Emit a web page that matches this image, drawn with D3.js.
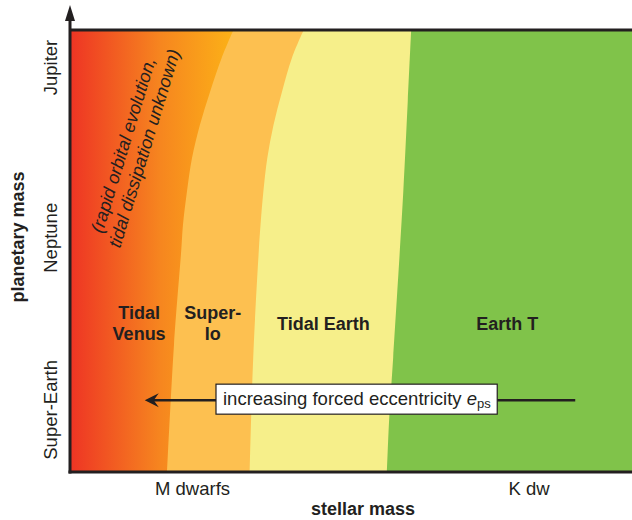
<!DOCTYPE html>
<html>
<head>
<meta charset="utf-8">
<script src="https://cdn.jsdelivr.net/npm/d3@7"></script>
<style>
  body { margin: 0; background: #fff; }
  svg text { font-family: "Liberation Sans", Arial, Helvetica, sans-serif; fill: #231f20; }
</style>
</head>
<body>
<svg id="chart" width="632" height="520"></svg>
<script>
// stellar mass (relative, 0..1) and planetary mass (relative, 0..1)
const bandNames = ["Tidal Venus", "Super-Io", "Tidal Earth", "Earth T"];
const bandColors = ["url(#redGrad)", "#fdc050", "#f6ef8a", "#80c34a"];

// boundary curves between the bands
const venusIoEdge = [
    { m: 0.290, p: 1.000 }, { m: 0.270, p: 0.939 }, { m: 0.249, p: 0.861 },
    { m: 0.231, p: 0.786 }, { m: 0.217, p: 0.711 }, { m: 0.208, p: 0.634 },
    { m: 0.201, p: 0.559 }, { m: 0.198, p: 0.502 }, { m: 0.185, p: 0.286 },
    { m: 0.173, p: 0.000 }
];
const ioEarthEdge = [
    { m: 0.415, p: 1.000 }, { m: 0.395, p: 0.939 }, { m: 0.377, p: 0.861 },
    { m: 0.362, p: 0.786 }, { m: 0.351, p: 0.711 }, { m: 0.344, p: 0.634 },
    { m: 0.339, p: 0.559 }, { m: 0.336, p: 0.502 }, { m: 0.326, p: 0.257 },
    { m: 0.320, p: 0.000 }
];
const earthTwinEdge = [
    { m: 0.607, p: 1.000 }, { m: 0.601, p: 0.841 }, { m: 0.593, p: 0.634 },
    { m: 0.575, p: 0.257 }, { m: 0.568, p: 0.120 }, { m: 0.564, p: 0.000 }
];

const yTickLabels = ["Super-Earth", "Neptune", "Jupiter"];
const yTickValues = [0.139, 0.530, 0.917];
const xTickLabels = ["M dwarfs", "K dw"];
const xTickValues = [0.218, 0.817];

const noteLines = ["(rapid orbital evolution,", "tidal dissipation unknown)"];
const arrowFrom = { m: 0.899, p: 0.161 };
const arrowTo = { m: 0.133, p: 0.161 };

const svg = d3.select("#chart");
const margin = { top: 31, right: 0, bottom: 49, left: 70 };
const width = 632 - margin.left - margin.right;
const height = 520 - margin.top - margin.bottom;

const x = d3.scaleLinear().domain([0, 1]).range([margin.left, margin.left + width]);
const y = d3.scaleLinear().domain([0, 1]).range([margin.top + height, margin.top]);

const defs = svg.append("defs");
const grad = defs.append("linearGradient")
    .attr("id", "redGrad")
    .attr("gradientUnits", "userSpaceOnUse")
    .attr("x1", x(0)).attr("x2", x(0.293))
    .attr("y1", 0).attr("y2", 0);
grad.append("stop").attr("offset", "0").attr("stop-color", "#ee3424");
grad.append("stop").attr("offset", "0.55").attr("stop-color", "#f6861f");
grad.append("stop").attr("offset", "1").attr("stop-color", "#fcb217");

// bands painted right to left, each one from the left edge to its right boundary
const fullEdge = [{ m: 1, p: 1 }, { m: 1, p: 0 }];
const edges = [venusIoEdge, ioEarthEdge, earthTwinEdge, fullEdge];

const area = d3.area()
    .curve(d3.curveCatmullRom.alpha(0.5))
    .y(d => y(d.p))
    .x0(x(0))
    .x1(d => x(d.m));

for (let i = edges.length - 1; i >= 0; i--) {
    svg.append("path")
        .datum(edges[i].slice().reverse())
        .attr("fill", bandColors[i])
        .attr("d", area);
}

// band labels
const label = (txt, m, p, dy) => {
    svg.append("text")
        .attr("x", x(m)).attr("y", y(p)).attr("dy", dy || 0)
        .attr("text-anchor", "middle")
        .attr("font-size", "18px")
        .attr("font-weight", "bold")
        .text(txt);
};
label("Tidal", 0.123, 0.3455);
label("Venus", 0.123, 0.3455, 21);
label("Super-", 0.254, 0.3455);
label("Io", 0.254, 0.3455, 21);
label(bandNames[2], 0.451, 0.3205);
label(bandNames[3], 0.778, 0.3205);

// rotated note
const note = svg.append("text")
    .attr("transform", "translate(133,148) rotate(-73)")
    .attr("text-anchor", "middle")
    .attr("font-size", "18px")
    .attr("font-style", "italic");
noteLines.forEach((t, i) => {
    note.append("tspan").attr("x", i * 3).attr("y", -4 + i * 21).text(t);
});

// arrow + box
const ay = y(arrowFrom.p);
const tipX = x(arrowTo.m);
svg.append("line")
    .attr("x1", x(arrowFrom.m)).attr("y1", ay)
    .attr("x2", tipX + 8).attr("y2", ay)
    .attr("stroke", "#231f20")
    .attr("stroke-width", 2.5);
svg.append("path")
    .attr("d", "M" + tipX + "," + ay + " L" + (tipX + 14) + "," + (ay - 7) +
        " L" + (tipX + 9) + "," + ay + " L" + (tipX + 14) + "," + (ay + 7) + " Z")
    .attr("fill", "#231f20");

const boxG = svg.append("g");
const boxRect = boxG.append("rect");
const boxText = boxG.append("text")
    .attr("x", 223).attr("y", ay + 5)
    .attr("font-size", "18.5px");
boxText.append("tspan").text("increasing forced eccentricity ");
boxText.append("tspan").attr("font-style", "italic").text("e");
boxText.append("tspan").attr("font-size", "13px").attr("dy", 3).text("ps");
const bb = boxText.node().getBBox();
boxRect
    .attr("x", 216).attr("y", ay - 16)
    .attr("width", bb.x + bb.width + 6 - 216).attr("height", 30)
    .attr("fill", "#fff")
    .attr("stroke", "#231f20")
    .attr("stroke-width", 1.2);

// axes frame
svg.append("line")
    .attr("x1", x(0)).attr("x2", x(1))
    .attr("y1", y(1) - 1).attr("y2", y(1) - 1)
    .attr("stroke", "#231f20").attr("stroke-width", 3);
svg.append("line")
    .attr("x1", x(0) - 1.5).attr("x2", x(1))
    .attr("y1", y(0) + 1).attr("y2", y(0) + 1)
    .attr("stroke", "#231f20").attr("stroke-width", 3);
svg.append("line")
    .attr("x1", x(0)).attr("x2", x(0))
    .attr("y1", y(0) + 2.5).attr("y2", 16)
    .attr("stroke", "#231f20").attr("stroke-width", 3);
svg.append("path")
    .attr("d", "M" + (x(0) - 5) + ",21 L" + x(0) + ",5 L" + (x(0) + 5) + ",21 Z")
    .attr("fill", "#231f20");

// tick labels
yTickValues.forEach((v, i) => {
    svg.append("text")
        .attr("transform", "translate(57," + y(v) + ") rotate(-90)")
        .attr("text-anchor", "middle")
        .attr("font-size", "18.5px")
        .text(yTickLabels[i]);
});
xTickValues.forEach((v, i) => {
    svg.append("text")
        .attr("x", x(v)).attr("y", 495)
        .attr("text-anchor", "middle")
        .attr("font-size", "18.5px")
        .text(xTickLabels[i]);
});

// axis titles
svg.append("text")
    .attr("x", 363).attr("y", 515)
    .attr("text-anchor", "middle")
    .attr("font-size", "18px")
    .attr("font-weight", "bold")
    .text("stellar mass");
svg.append("text")
    .attr("transform", "translate(24,237) rotate(-90)")
    .attr("text-anchor", "middle")
    .attr("font-size", "18px")
    .attr("font-weight", "bold")
    .text("planetary mass");
</script>
</body>
</html>
